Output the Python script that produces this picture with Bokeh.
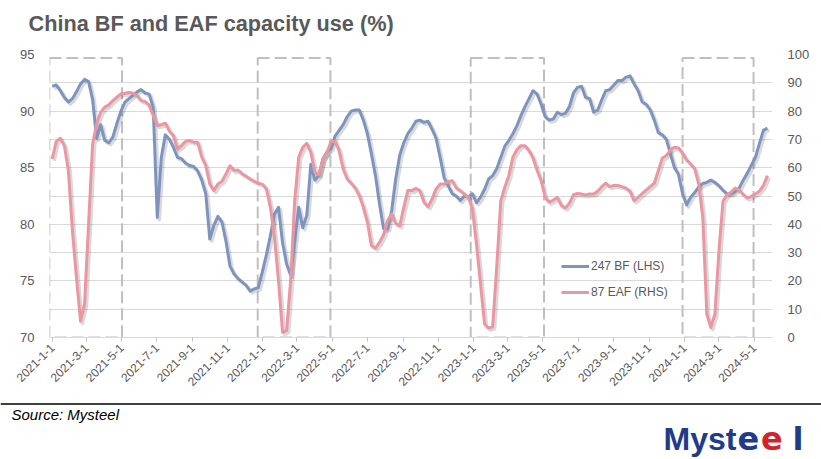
import numpy as np
import pandas as pd
from bokeh.plotting import figure
from bokeh.layouts import column
from bokeh.models import (Range1d, LinearAxis, FixedTicker, Label, Legend, LegendItem, Span)
from bokeh.embed import file_html
from bokeh.resources import INLINE

# ---------------- data ----------------
start_date = "2021-01-01"   # weekly observations
bf_lhs = [92.2, 92.3, 91.8, 91.2, 90.8, 91.1, 91.7, 92.4, 92.8, 92.6,
          91.0, 87.6, 88.8, 87.4, 87.2, 87.7, 88.9, 90.0, 90.8, 91.1,
          91.4, 91.7, 91.9, 91.6, 91.5, 90.3, 80.6, 85.9, 87.9, 87.5,
          86.8, 85.9, 85.8, 85.4, 85.2, 85.1, 84.7, 83.9, 82.7, 78.7,
          79.9, 80.7, 80.2, 78.5, 76.3, 75.6, 75.2, 74.9, 74.6, 74.1,
          74.3, 74.4, 75.8, 77.3, 79.0, 80.9, 81.5, 78.4, 76.5, 75.5,
          78.5, 81.5, 79.7, 80.8, 85.3, 83.9, 84.3, 85.8, 86.4, 86.7,
          87.8, 88.3, 88.8, 89.5, 90.0, 90.1, 90.1, 89.2, 88.0, 86.2,
          84.3, 81.8, 79.6, 79.6, 81.2, 84.0, 86.1, 87.2, 88.0, 88.5,
          89.1, 89.2, 89.0, 89.1, 88.4, 87.6, 85.9, 84.1, 83.4, 82.7,
          82.5, 82.1, 82.5, 82.4, 82.7, 81.9, 82.4, 83.1, 84.0, 84.3,
          84.9, 85.9, 86.9, 87.4, 88.0, 88.7, 89.6, 90.4, 91.1, 91.8,
          91.5, 90.6, 89.5, 89.2, 89.3, 89.9, 89.7, 89.8, 90.4, 91.6,
          92.1, 92.2, 91.2, 91.1, 89.9, 90.1, 91.0, 91.8, 91.9, 92.3,
          92.7, 92.7, 93.0, 93.1, 92.4, 91.8, 90.8, 90.6, 90.1, 89.2,
          88.1, 87.9, 87.5, 86.2, 85.0, 84.4, 82.7, 81.7, 82.4, 82.8,
          83.3, 83.6, 83.7, 83.9, 83.7, 83.4, 83.0, 82.7, 82.7, 82.9,
          83.2, 83.9, 84.5, 85.2, 85.9, 87.1, 88.3, 88.5]
eaf_rhs = [63.1, 69.3, 70.4, 67.8, 59.0, 37.7, 21.2, 5.7, 11.8, 40.1,
           68.4, 75.5, 79.6, 81.4, 82.2, 83.7, 84.9, 86.1, 86.3, 86.6,
           86.3, 85.5, 83.7, 83.4, 82.0, 78.4, 74.9, 75.2, 75.7, 72.9,
           71.3, 66.6, 67.8, 69.3, 69.6, 69.0, 69.0, 63.7, 60.7, 54.2,
           51.9, 54.2, 55.2, 57.8, 60.7, 59.0, 59.2, 57.8, 57.0, 56.0,
           55.2, 54.5, 54.2, 52.5, 46.0, 35.4, 20.0, 1.8, 2.4, 20.0,
           48.3, 63.7, 67.2, 68.6, 65.4, 58.4, 57.5, 63.1, 65.4, 69.3,
           69.3, 66.0, 59.6, 56.0, 54.5, 52.8, 50.1, 46.0, 40.7, 32.4,
           31.6, 33.6, 36.3, 41.3, 43.6, 40.3, 39.5, 46.0, 51.9, 51.9,
           52.7, 51.9, 47.8, 46.2, 48.9, 52.5, 54.2, 54.2, 55.1, 55.4,
           52.8, 51.9, 50.7, 49.5, 45.4, 33.0, 18.9, 4.7, 3.3, 3.8,
           24.8, 48.3, 53.1, 57.2, 63.7, 66.4, 67.8, 67.8, 66.0, 63.4,
           59.0, 55.4, 49.5, 47.8, 48.6, 49.5, 46.6, 45.8, 47.4, 50.5,
           50.9, 50.7, 50.4, 50.7, 50.7, 51.7, 53.3, 54.5, 53.3, 53.7,
           53.7, 53.3, 52.8, 51.7, 48.3, 49.5, 50.9, 52.1, 53.3, 54.5,
           59.0, 63.4, 64.3, 66.3, 67.2, 67.0, 65.1, 62.7, 61.3, 59.6,
           54.2, 42.5, 8.3, 3.5, 8.3, 30.7, 48.1, 50.5, 51.3, 52.8,
           52.1, 50.5, 49.3, 49.9, 50.7, 51.7, 53.7, 57.2]
series_names = ["247 BF (LHS)", "87 EAF (RHS)"]
tick_labels = ["2021-1-1", "2021-3-1", "2021-5-1", "2021-7-1", "2021-9-1", "2021-11-1",
               "2022-1-1", "2022-3-1", "2022-5-1", "2022-7-1", "2022-9-1", "2022-11-1",
               "2023-1-1", "2023-3-1", "2023-5-1", "2023-7-1", "2023-9-1", "2023-11-1",
               "2024-1-1", "2024-3-1", "2024-5-1"]
left_ticks = [70, 75, 80, 85, 90, 95]
right_ticks = [0, 10, 20, 30, 40, 50, 60, 70, 80, 90, 100]
box_starts = ["2020-12-27", "2021-12-23", "2022-12-27", "2023-12-29"]
box_ends = ["2021-05-02", "2022-04-28", "2023-05-03", "2024-04-30"]
box_top = 94.7
box_bottom = 70.0
title_text = "China BF and EAF capacity use (%)"
source_text = "Source: Mysteel"

# ---------------- derived ----------------
origin = pd.Timestamp(start_date)
dates = pd.date_range(start_date, periods=len(bf_lhs), freq="7D")
xd = np.asarray((dates - origin).days, dtype=float)

def day(s):
    return float((pd.Timestamp(s) - origin).days)

tick_days = [day(t) for t in tick_labels]

BLUE = "#7D95BE"
RED = "#EA97A2"
GRID = "#D9D9D9"
TXT = "#595959"
FONT = "Liberation Sans"
W = 821
X0, X1 = -4.7, 1247.8

def blank(height, y_top, y_bot):
    f = figure(width=W, height=height, output_backend="svg", toolbar_location=None,
               x_range=Range1d(0, W), y_range=Range1d(y_bot, y_top),
               x_axis_type=None, y_axis_type=None,
               min_border=0, min_border_left=0, min_border_right=0,
               min_border_top=0, min_border_bottom=0, frame_align=False)
    f.outline_line_color = None
    f.background_fill_color = "white"
    f.border_fill_color = "white"
    f.grid.visible = False
    return f

# ---------------- header ----------------
head = blank(40, 0, 40)
head.add_layout(Label(x=28, y=22.5, text=title_text, text_font=FONT,
                      text_font_style="bold", text_font_size="21.7px", text_color=TXT,
                      text_baseline="middle", text_align="left"))

# ---------------- main chart ----------------
p = figure(width=W, height=358, output_backend="svg", toolbar_location=None,
           x_range=Range1d(X0, X1), y_range=Range1d(70, 95), frame_align=False,
           min_border_left=49, min_border_right=49, min_border_top=14, min_border_bottom=61)
p.outline_line_color = None
p.background_fill_color = "white"
p.border_fill_color = "white"
p.extra_y_ranges = {"rhs": Range1d(0, 100)}

p.xgrid.visible = False
p.ygrid.ticker = FixedTicker(ticks=list(np.arange(70, 95.01, 2.5)))
p.ygrid.grid_line_color = GRID
p.ygrid.grid_line_width = 1

la = p.yaxis[0]
la.ticker = FixedTicker(ticks=left_ticks)
la.axis_line_color = None
la.major_tick_line_color = None
la.minor_tick_line_color = None
la.major_label_standoff = 9
la.major_label_text_font = FONT
la.major_label_text_font_size = "13px"
la.major_label_text_color = TXT

ra = LinearAxis(y_range_name="rhs", ticker=FixedTicker(ticks=right_ticks))
ra.axis_line_color = None
ra.major_tick_line_color = None
ra.minor_tick_line_color = None
ra.major_label_standoff = 9
ra.major_label_text_font = FONT
ra.major_label_text_font_size = "13px"
ra.major_label_text_color = TXT
p.add_layout(ra, "right")

xa = p.xaxis[0]
xa.ticker = FixedTicker(ticks=tick_days)
xa.major_label_overrides = {int(d): lab for d, lab in zip(tick_days, tick_labels)}
xa.major_label_orientation = np.pi / 4
xa.axis_line_color = GRID
xa.major_tick_line_color = "#BFBFBF"
xa.major_tick_out = 4
xa.major_tick_in = 0
xa.minor_tick_line_color = None
xa.major_label_standoff = 4
xa.major_label_text_font = FONT
xa.major_label_text_font_size = "12px"
xa.major_label_text_color = TXT

p.quad(left=[day(s) for s in box_starts], right=[day(s) for s in box_ends],
       bottom=[box_bottom] * len(box_starts), top=[box_top] * len(box_starts),
       fill_color=None, line_color="#BFBFBF", line_width=2, line_dash="12 5")

# soft drop shadows, ~2px right/down
dx = 2 * (X1 - X0) / 723
p.line(xd + dx, np.array(bf_lhs) - 2 * 25 / 283, line_color="black", line_alpha=0.15,
       line_width=3.5, line_join="round")
p.line(xd + dx, np.array(eaf_rhs) - 2 * 100 / 283, y_range_name="rhs", line_color="black",
       line_alpha=0.15, line_width=3.5, line_join="round")

r_bf = p.line(xd, bf_lhs, line_color=BLUE, line_width=3, line_join="round")
r_eaf = p.line(xd, eaf_rhs, y_range_name="rhs", line_color=RED, line_width=3, line_join="round")

legend = Legend(items=[LegendItem(label=series_names[0], renderers=[r_bf]),
                       LegendItem(label=series_names[1], renderers=[r_eaf])],
                location=(512, 35), orientation="vertical", background_fill_alpha=0,
                border_line_color=None, padding=0, margin=0, spacing=6, glyph_width=28,
                glyph_height=20, label_height=20, label_standoff=2,
                label_text_font=FONT, label_text_font_size="12px", label_text_color=TXT)
p.add_layout(legend)

# ---------------- footer ----------------
foot = blank(61, 398, 459)
foot.add_layout(Span(location=403.5, dimension="width", line_color="black", line_width=1.5))
foot.add_layout(Label(x=11, y=414, text=source_text, text_font=FONT,
                      text_font_style="italic", text_font_size="15px", text_color="black",
                      text_baseline="middle", text_align="left"))
LOGO_BLUE = "#1E3C87"
LOGO_RED = "#D1232A"
for txt, xx, col, fnt in [("Myst", 663, LOGO_BLUE, FONT), ("e", 737, LOGO_BLUE, "DejaVu Sans"),
                          ("e", 760.5, LOGO_RED, "DejaVu Sans"), ("l", 792, LOGO_BLUE, "DejaVu Sans")]:
    foot.add_layout(Label(x=xx, y=438.3, text=txt, text_font=fnt, text_font_style="bold",
                          text_font_size="32px", text_color=col, text_baseline="alphabetic",
                          text_align="left"))

layout = column(head, p, foot, spacing=0)
open("out.html", "w").write(file_html(layout, INLINE))
